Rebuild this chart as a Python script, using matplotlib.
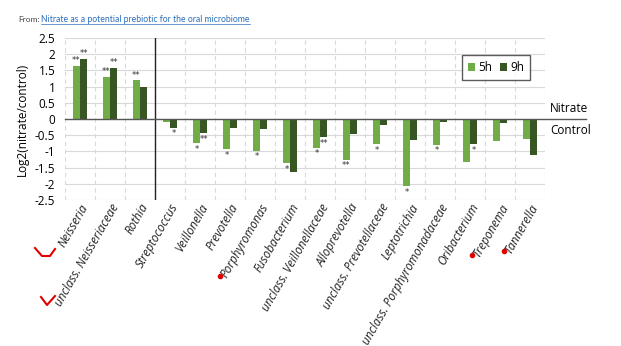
import matplotlib.pyplot as plt
import numpy as np
from matplotlib.lines import Line2D

taxa = ['Neisseria', 'unclass. Neisseriaceae', 'Rothia', 'Streptococcus',
        'Veillonella', 'Prevotella', 'Porphyromonas', 'Fusobacterium',
        'unclass. Veillonellaceae', 'Alloprevotella', 'unclass. Prevotellaceae',
        'Leptotrichia', 'unclass. Porphyromonadaceae', 'Oribacterium',
        'Treponema', 'Tannerella']
vals_5h = [1.65, 1.31, 1.20, -0.08, -0.75, -0.93, -0.98, -1.37,
           -0.88, -1.25, -0.78, -2.07, -0.79, -1.33, -0.68, -0.63]
vals_9h = [1.85, 1.59, 0.98, -0.27, -0.44, -0.27, -0.32, -1.63,
           -0.56, -0.46, -0.19, -0.65, -0.08, -0.78, -0.13, -1.11]
sig_5h = ['**', '**', '**', '', '*', '*', '*', '*',
          '*', '**', '*', '*', '*', '', '', '']
sig_9h = ['**', '**', '', '*', '**', '', '', '',
          '**', '', '', '', '', '*', '', '']
marked = ['Porphyromonas', 'Treponema', 'Tannerella']
yticks = [2.5, 2, 1.5, 1, 0.5, 0, -0.5, -1, -1.5, -2, -2.5]

c5 = '#70ad47'
c9 = '#375623'
font = 'Open Sans'

fig = plt.figure(figsize=(6.21, 3.46), dpi=100)
ax = fig.add_axes([0.1047, 0.422, 0.773, 0.468])

x = np.arange(len(taxa))
w = 0.22
off = 0.12
ax.bar(x - off, vals_5h, w, color=c5, label='5h', zorder=3)
ax.bar(x + off, vals_9h, w, color=c9, label='9h', zorder=3)

for i in range(len(taxa)):
    for xv, v, s in ((x[i] - off, vals_5h[i], sig_5h[i]), (x[i] + off, vals_9h[i], sig_9h[i])):
        if not s:
            continue
        if v > 0:
            ax.text(xv, v + 0.02, s, ha='center', va='bottom', fontsize=6, color='#333333')
        else:
            ax.text(xv, v - 0.05, s, ha='center', va='top', fontsize=6, color='#333333')

ax.set_xlim(-0.5, len(taxa) - 0.5)
ax.set_ylim(-2.5, 2.5)
ax.set_yticks(yticks)
ax.set_yticklabels([f'{t:g}' for t in yticks], fontsize=8.5, family=font)
ax.tick_params(axis='y', length=0, pad=7)
ax.tick_params(axis='x', length=0, pad=1)
ax.set_xticks(x)
ax.set_xticklabels(taxa, rotation=60, ha='right', va='top', rotation_mode='anchor',
                   fontsize=8.5, style='italic', family=font, color='#222222')
ax.set_ylabel('Log2(nitrate/control)', fontsize=8.5, family=font, labelpad=4)

for yv in yticks:
    ax.axhline(yv, color='#d9d9d9', lw=0.8, zorder=1)
for xb in np.arange(-0.5, len(taxa), 1.0):
    ax.axvline(xb, color='#d9d9d9', lw=0.8, ls=(0, (4, 3)), zorder=1)
ax.axvline(2.5, color='#222222', lw=1.0, zorder=4)
ax.axhline(0, xmin=0, xmax=(586 - 65) / 480, color='#555555', lw=1.0, clip_on=False, zorder=4)

for sp in ax.spines.values():
    sp.set_visible(False)

leg = ax.legend(loc='upper left', bbox_to_anchor=(0.827, 0.895), frameon=True, fancybox=False,
                edgecolor='#333333', handlelength=0.6, handleheight=0.6, handletextpad=0.3,
                columnspacing=0.6, ncol=2, prop={'family': font, 'size': 8.5}, borderpad=0.5,
                borderaxespad=0)
leg.get_frame().set_linewidth(1.0)

fig.text(550 / 621, 1 - 109 / 346, 'Nitrate', fontsize=8.5, family=font, va='center')
fig.text(550 / 621, 1 - 130 / 346, 'Control', fontsize=8.5, family=font, va='center')

px = lambda xs: [v / 621 for v in xs]
py = lambda ys: [1 - v / 346 for v in ys]

fig.text(18 / 621, 1 - 19 / 346, 'From:', fontsize=6, family='Lato', color='#444444', va='center')
link = fig.text(41 / 621, 1 - 19 / 346, 'Nitrate as a potential prebiotic for the oral microbiome',
                fontsize=6.2, family='Lato', color='#2a6ebb', va='center')

fig.canvas.draw()
lb = link.get_window_extent()
fig.add_artist(Line2D([lb.x0 / fig.bbox.width, lb.x1 / fig.bbox.width], py([24, 24]),
                      color='#2a6ebb', lw=0.5))
for lab in ax.get_xticklabels():
    if lab.get_text() in marked:
        bb = lab.get_window_extent()
        # red dot at the lower-left end of the label
        fig.add_artist(Line2D([bb.x0 / fig.bbox.width + 0.002], [bb.y0 / fig.bbox.height + 0.012],
                              marker='o', ms=3, color='#e00000', transform=fig.transFigure))

# red hand marks
fig.add_artist(Line2D(px([35, 42, 50, 55]), py([248, 256, 256, 249]), color='#e00000', lw=1.5))
fig.add_artist(Line2D(px([41, 47, 55]), py([297, 305, 296]), color='#e00000', lw=1.5))

fig.savefig('out.png', dpi=100)
